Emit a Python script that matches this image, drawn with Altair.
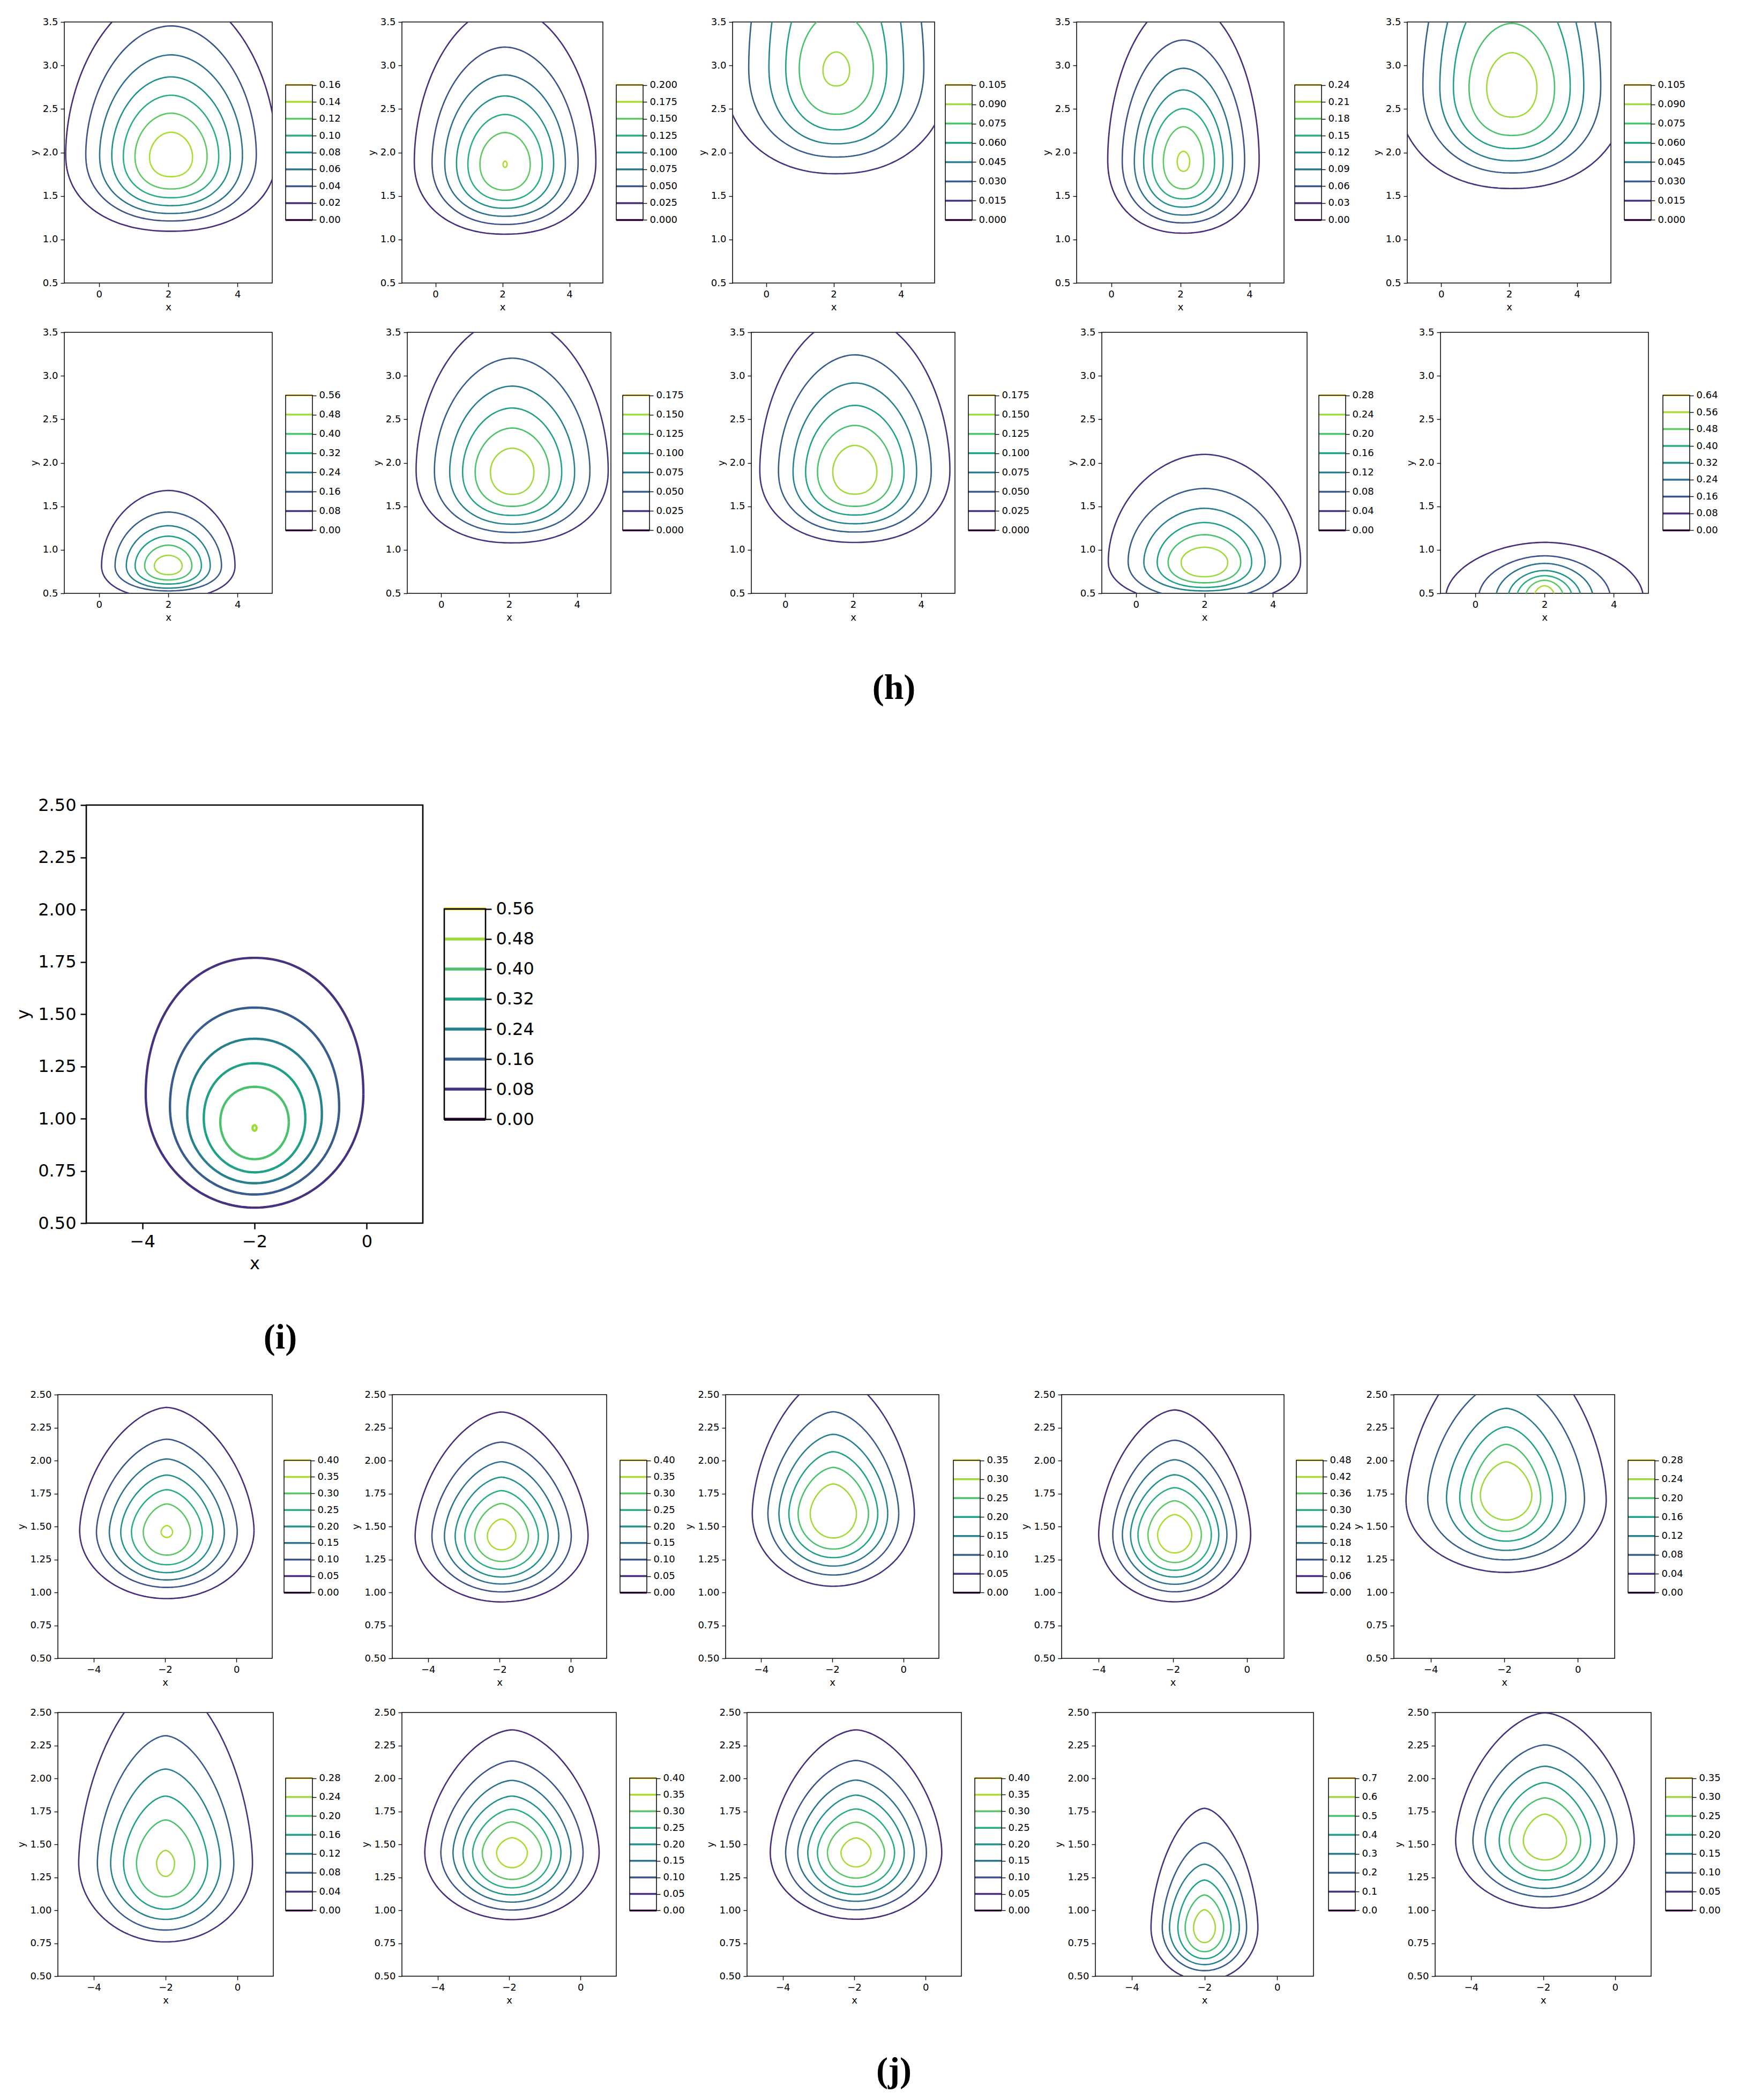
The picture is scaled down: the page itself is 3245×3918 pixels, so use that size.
import altair as alt
import numpy as np
import pandas as pd

# ======================= DATA =======================
# ---- section (h): 2 rows x 5 panels, x in [-1, 5], y in [0.5, 3.5]
H_X_TICKS = [0, 2, 4]
H_Y_TICKS = [0.5, 1.0, 1.5, 2.0, 2.5, 3.0, 3.5]
H_LEVELS = [
    [0.00, 0.02, 0.04, 0.06, 0.08, 0.10, 0.12, 0.14, 0.16],
    [0.000, 0.025, 0.050, 0.075, 0.100, 0.125, 0.150, 0.175, 0.200],
    [0.000, 0.015, 0.030, 0.045, 0.060, 0.075, 0.090, 0.105],
    [0.00, 0.03, 0.06, 0.09, 0.12, 0.15, 0.18, 0.21, 0.24],
    [0.000, 0.015, 0.030, 0.045, 0.060, 0.075, 0.090, 0.105],
    [0.00, 0.08, 0.16, 0.24, 0.32, 0.40, 0.48, 0.56],
    [0.000, 0.025, 0.050, 0.075, 0.100, 0.125, 0.150, 0.175],
    [0.000, 0.025, 0.050, 0.075, 0.100, 0.125, 0.150, 0.175],
    [0.00, 0.04, 0.08, 0.12, 0.16, 0.20, 0.24, 0.28],
    [0.00, 0.08, 0.16, 0.24, 0.32, 0.40, 0.48, 0.56, 0.64],
]
H_LEVEL_FMT = [".2f", ".3f", ".3f", ".2f", ".3f", ".2f", ".3f", ".3f", ".2f", ".2f"]
H_CENTER = [2.08, 2.08, 2.08, 2.09, 2.08, 2.0, 2.09, 2.05, 2.0, 2.0]
# contour rings: (level, bottom y, top y, half width, y of widest point)
H_RINGS = [
    [(0.02, 1.095, 3.86, 3.04, 1.98), (0.04, 1.213, 3.455, 2.46, 1.98), (0.06, 1.299, 3.122, 2.06, 1.97),
     (0.08, 1.389, 2.869, 1.71, 1.97), (0.10, 1.48, 2.658, 1.376, 1.96), (0.12, 1.581, 2.452, 1.04, 1.96),
     (0.14, 1.722, 2.233, 0.62, 1.95)],
    [(0.025, 1.061, 3.68, 2.71, 1.90), (0.050, 1.173, 3.211, 2.18, 1.89), (0.075, 1.267, 2.891, 1.80, 1.88),
     (0.100, 1.359, 2.650, 1.45, 1.88), (0.125, 1.45, 2.437, 1.11, 1.87), (0.150, 1.567, 2.229, 0.75, 1.87),
     (0.175, 1.83, 1.90, 0.06, 1.865)],
    [(0.015, 1.756, 6.0, 3.35, 2.98), (0.030, 1.948, 5.4, 2.6, 2.98), (0.045, 2.10, 4.9, 2.0, 2.98),
     (0.060, 2.26, 4.18, 1.5, 2.98), (0.075, 2.44, 3.61, 1.1, 2.97), (0.090, 2.765, 3.155, 0.395, 2.95)],
    [(0.03, 1.073, 3.755, 2.19, 1.92), (0.06, 1.191, 3.292, 1.77, 1.91), (0.09, 1.281, 2.968, 1.42, 1.90),
     (0.12, 1.372, 2.719, 1.15, 1.90), (0.15, 1.467, 2.504, 0.90, 1.90), (0.18, 1.582, 2.296, 0.58, 1.90),
     (0.21, 1.784, 2.013, 0.18, 1.90)],
    [(0.015, 1.586, 5.6, 3.4, 2.78), (0.030, 1.765, 5.0, 2.62, 2.77), (0.045, 1.904, 4.5, 2.12, 2.76),
     (0.060, 2.045, 4.0, 1.72, 2.76), (0.075, 2.196, 3.484, 1.26, 2.75), (0.090, 2.407, 3.147, 0.74, 2.75)],
    [(0.08, 0.44, 1.682, 1.925, 0.82), (0.16, 0.528, 1.434, 1.535, 0.82), (0.24, 0.56, 1.277, 1.21, 0.82),
     (0.32, 0.607, 1.157, 0.956, 0.82), (0.40, 0.654, 1.054, 0.68, 0.82), (0.48, 0.715, 0.937, 0.40, 0.82)],
    [(0.025, 1.080, 3.67, 2.83, 1.92), (0.050, 1.20, 3.203, 2.29, 1.91), (0.075, 1.295, 2.882, 1.84, 1.90),
     (0.100, 1.396, 2.63, 1.46, 1.90), (0.125, 1.50, 2.40, 1.09, 1.90), (0.150, 1.638, 2.168, 0.64, 1.90)],
    [(0.025, 1.085, 3.70, 2.8, 1.92), (0.050, 1.205, 3.241, 2.25, 1.91), (0.075, 1.30, 2.918, 1.82, 1.90),
     (0.100, 1.40, 2.66, 1.45, 1.90), (0.125, 1.50, 2.43, 1.10, 1.90), (0.150, 1.64, 2.20, 0.65, 1.90)],
    [(0.04, 0.38, 2.097, 2.81, 0.87), (0.08, 0.44, 1.705, 2.23, 0.87), (0.12, 0.528, 1.477, 1.77, 0.86),
     (0.16, 0.568, 1.314, 1.38, 0.86), (0.20, 0.621, 1.174, 1.06, 0.86), (0.24, 0.691, 1.03, 0.68, 0.86)],
    [(0.08, 0.3, 1.086, 2.85, 0.45), (0.16, 0.3, 0.931, 1.9, 0.45), (0.24, 0.3, 0.844, 1.4, 0.45),
     (0.32, 0.3, 0.762, 1.05, 0.45), (0.40, 0.3, 0.703, 0.8, 0.45), (0.48, 0.3, 0.65, 0.55, 0.45),
     (0.56, 0.3, 0.587, 0.3, 0.45)],
]

# ---- section (i): one panel, x in [-5, 1], y in [0.5, 2.5]
IJ_X_TICKS = [-4, -2, 0]
IJ_Y_TICKS = [0.5, 0.75, 1.0, 1.25, 1.5, 1.75, 2.0, 2.25, 2.5]
I_LEVELS = [0.00, 0.08, 0.16, 0.24, 0.32, 0.40, 0.48, 0.56]
I_LEVEL_FMT = ".2f"
I_CENTER = -2.0
I_RINGS = [(0.08, 0.574, 1.769, 1.94, 1.117), (0.16, 0.637, 1.531, 1.508, 1.055),
           (0.24, 0.691, 1.382, 1.20, 1.02), (0.32, 0.743, 1.265, 0.905, 1.0),
           (0.40, 0.806, 1.152, 0.61, 0.983), (0.48, 0.942, 0.968, 0.035, 0.955)]

# ---- section (j): 2 rows x 5 panels, x in [-5, 1], y in [0.5, 2.5]
J_LEVELS = [
    [0.00, 0.05, 0.10, 0.15, 0.20, 0.25, 0.30, 0.35, 0.40],
    [0.00, 0.05, 0.10, 0.15, 0.20, 0.25, 0.30, 0.35, 0.40],
    [0.00, 0.05, 0.10, 0.15, 0.20, 0.25, 0.30, 0.35],
    [0.00, 0.06, 0.12, 0.18, 0.24, 0.30, 0.36, 0.42, 0.48],
    [0.00, 0.04, 0.08, 0.12, 0.16, 0.20, 0.24, 0.28],
    [0.00, 0.04, 0.08, 0.12, 0.16, 0.20, 0.24, 0.28],
    [0.00, 0.05, 0.10, 0.15, 0.20, 0.25, 0.30, 0.35, 0.40],
    [0.00, 0.05, 0.10, 0.15, 0.20, 0.25, 0.30, 0.35, 0.40],
    [0.0, 0.1, 0.2, 0.3, 0.4, 0.5, 0.6, 0.7],
    [0.00, 0.05, 0.10, 0.15, 0.20, 0.25, 0.30, 0.35],
]
J_LEVEL_FMT = [".2f"] * 8 + [".1f", ".2f"]
J_CENTER = [-1.95, -1.94, -1.97, -1.95, -1.95, -2.0, -1.92, -1.95, -2.0, -1.95]
J_RINGS = [
    [(0.05, 0.953, 2.403, 2.44, 1.47), (0.10, 1.038, 2.162, 1.97, 1.46), (0.15, 1.095, 2.012, 1.61, 1.46),
     (0.20, 1.15, 1.89, 1.29, 1.46), (0.25, 1.21, 1.779, 0.99, 1.46), (0.30, 1.283, 1.671, 0.66, 1.46),
     (0.35, 1.417, 1.507, 0.16, 1.46)],
    [(0.05, 0.928, 2.368, 2.42, 1.43), (0.10, 1.004, 2.14, 1.95, 1.43), (0.15, 1.064, 1.991, 1.60, 1.43),
     (0.20, 1.117, 1.874, 1.30, 1.43), (0.25, 1.175, 1.772, 1.03, 1.43), (0.30, 1.235, 1.674, 0.75, 1.43),
     (0.35, 1.323, 1.556, 0.40, 1.43)],
    [(0.05, 1.047, 2.65, 2.28, 1.60), (0.10, 1.132, 2.37, 1.84, 1.60), (0.15, 1.20, 2.199, 1.53, 1.60),
     (0.20, 1.264, 2.067, 1.25, 1.60), (0.25, 1.329, 1.948, 0.99, 1.60), (0.30, 1.413, 1.823, 0.65, 1.60)],
    [(0.06, 0.929, 2.384, 2.05, 1.44), (0.12, 1.005, 2.154, 1.67, 1.44), (0.18, 1.062, 2.006, 1.41, 1.44),
     (0.24, 1.117, 1.892, 1.19, 1.44), (0.30, 1.168, 1.794, 0.99, 1.44), (0.36, 1.227, 1.695, 0.72, 1.44),
     (0.42, 1.30, 1.59, 0.46, 1.44)],
    [(0.04, 1.152, 2.92, 2.72, 1.70), (0.08, 1.247, 2.61, 2.13, 1.71), (0.12, 1.319, 2.396, 1.62, 1.72),
     (0.16, 1.389, 2.255, 1.26, 1.72), (0.20, 1.463, 2.123, 0.94, 1.72), (0.24, 1.549, 1.99, 0.70, 1.74)],
    [(0.04, 0.760, 2.745, 2.42, 1.36), (0.08, 0.85, 2.324, 1.90, 1.36), (0.12, 0.931, 2.071, 1.53, 1.36),
     (0.16, 1.008, 1.866, 1.17, 1.36), (0.20, 1.102, 1.685, 0.81, 1.36), (0.24, 1.257, 1.454, 0.25, 1.36)],
    [(0.05, 0.929, 2.368, 2.44, 1.44), (0.10, 1.002, 2.132, 1.99, 1.44), (0.15, 1.062, 1.985, 1.65, 1.44),
     (0.20, 1.117, 1.866, 1.37, 1.44), (0.25, 1.17, 1.766, 1.10, 1.44), (0.30, 1.234, 1.67, 0.83, 1.44),
     (0.35, 1.323, 1.55, 0.43, 1.44)],
    [(0.05, 0.932, 2.368, 2.40, 1.44), (0.10, 1.004, 2.136, 1.97, 1.44), (0.15, 1.068, 1.987, 1.63, 1.44),
     (0.20, 1.12, 1.873, 1.35, 1.44), (0.25, 1.179, 1.768, 1.08, 1.44), (0.30, 1.244, 1.668, 0.80, 1.44),
     (0.35, 1.329, 1.548, 0.42, 1.44)],
    [(0.1, 0.467, 1.773, 1.47, 0.87), (0.2, 0.542, 1.512, 1.16, 0.87), (0.3, 0.588, 1.349, 0.96, 0.87),
     (0.4, 0.633, 1.229, 0.73, 0.87), (0.5, 0.686, 1.116, 0.53, 0.87), (0.6, 0.755, 1.004, 0.30, 0.87)],
    [(0.05, 1.017, 2.497, 2.48, 1.53), (0.10, 1.102, 2.254, 2.0, 1.53), (0.15, 1.166, 2.092, 1.66, 1.53),
     (0.20, 1.23, 1.968, 1.27, 1.53), (0.25, 1.30, 1.852, 0.99, 1.53), (0.30, 1.382, 1.729, 0.60, 1.53)],
]

SECTION_LABELS = ["(h)", "(i)", "(j)"]

# ======================= LAYOUT / STYLE =======================
FONT = "DejaVu Sans"
LABEL_FONT = "Liberation Serif"
PAGE0 = 8
CBW = 50
H_PL = [[117, 747, 1364, 2006, 2623], [117, 757, 1399, 2053, 2685]]
H_PR = [[505, 1122, 1741, 2393, 3003], [505, 1137, 1779, 2436, 3073]]
H_CB = [[530, 1147, 1761, 2413, 3028], [530, 1159, 1804, 2458, 3100]]
J_PL = [[105, 729, 1351, 1978, 2598], [105, 747, 1391, 2041, 2675]]
J_PR = [[505, 1129, 1749, 2393, 3010], [507, 1147, 1791, 2448, 3078]]
J_CB = [[527, 1154, 1776, 2416, 3035], [530, 1172, 1816, 2476, 3105]]

SMALL = dict(fs=18, tick=7, tickw=1.4, lw=2.6, frame=1.5, cblw=3.5, lpad=5, tpad=6, cbw=CBW)
BIG = dict(fs=32, tick=11, tickw=2.4, lw=4.4, frame=2.6, cblw=5.5, lpad=8, tpad=10, cbw=77)

# estimated overflow of axis text outside the plot area (top / bottom), used for vertical placement
OV_TOP_S, OV_BOT_S = 9, 54
OV_TOP_B, OV_BOT_B = 16, 93

VIRIDIS = alt.Scale(scheme="viridis", domain=[0, 1])
SHAPE_H = (1.9, 2.2)   # superellipse exponents (upper half, lower half)
SHAPE_I = (2.1, 2.0)
SHAPE_J = (1.7, 2.0)


def ring_frame(center, levels, rings, shape, n=220):
    p_top, p_bot = shape
    l0, l1 = levels[0], levels[-1]
    th = np.linspace(0, 2 * np.pi, n)
    c, s = np.cos(th), np.sin(th)
    up = s >= 0
    frames = []
    for k, (lev, yb, yt, hw, yw) in enumerate(rings):
        ex = np.where(up, 2.0 / p_top, 2.0 / p_bot)
        xs = center + hw * np.sign(c) * np.abs(c) ** ex
        ys = np.where(up, yw + (yt - yw) * np.abs(s) ** (2.0 / p_top),
                      yw - (yw - yb) * np.abs(s) ** (2.0 / p_bot))
        frames.append(pd.DataFrame({"x": xs.round(4), "y": ys.round(4), "i": np.arange(n),
                                    "ring": k, "t": (lev - l0) / (l1 - l0)}))
    return pd.concat(frames, ignore_index=True)


def axis(vals, fmt, title, st, orient=None):
    kw = dict(values=vals, format=fmt, title=title, labelFont=FONT, titleFont=FONT,
              labelFontSize=st["fs"], titleFontSize=st["fs"], titleFontWeight="normal",
              labelColor="black", titleColor="black", tickColor="black", tickSize=st["tick"],
              tickWidth=st["tickw"], domain=False, grid=False, labelPadding=st["lpad"],
              titlePadding=st["tpad"], labelFlush=False, labelOverlap=False)
    if orient:
        kw["orient"] = orient
    return alt.Axis(**kw)


def plot_chart(df, xdom, ydom, xt, yt, yfmt, w, h, st):
    return alt.Chart(df, view=alt.ViewBackground(stroke="black", strokeWidth=st["frame"])).mark_line(
        clip=True, strokeWidth=st["lw"]).encode(
        x=alt.X("x:Q", scale=alt.Scale(domain=xdom, nice=False, zero=False), axis=axis(xt, "d", "x", st)),
        y=alt.Y("y:Q", scale=alt.Scale(domain=ydom, nice=False, zero=False), axis=axis(yt, yfmt, "y", st)),
        color=alt.Color("t:Q", scale=VIRIDIS, legend=None),
        detail="ring:N",
        order="i:Q",
    ).properties(width=w, height=h)


def cb_chart(levels, fmt, h, frac, st):
    l0, l1 = levels[0], levels[-1]
    pad = (l1 - l0) * (1 - frac) / (2 * frac)
    ysc = alt.Scale(domain=[l0 - pad, l1 + pad], nice=False, zero=False)
    xsc = alt.Scale(domain=[0, 1], nice=False, zero=False)
    ax = axis(levels, fmt, None, st, orient="right")
    df = pd.DataFrame({"lev": levels, "t": [(v - l0) / (l1 - l0) for v in levels],
                       "a": 0.0, "b": 1.0})
    lines = alt.Chart(df).mark_rule(strokeWidth=st["cblw"]).encode(
        x=alt.X("a:Q", scale=xsc, axis=None), x2="b:Q",
        y=alt.Y("lev:Q", scale=ysc, axis=ax),
        color=alt.Color("t:Q", scale=VIRIDIS, legend=None))
    box = alt.Chart(pd.DataFrame({"a": [0.0], "b": [1.0], "lo": [l0], "hi": [l1]})).mark_rect(
        fillOpacity=0, stroke="black", strokeWidth=st["frame"]).encode(
        x=alt.X("a:Q", scale=xsc, axis=None), x2="b:Q",
        y=alt.Y("lo:Q", scale=ysc, axis=ax), y2="hi:Q")
    return alt.layer(lines, box).properties(width=st["cbw"], height=h)


def spacer(w, h):
    return alt.Chart(pd.DataFrame({"v": [0]})).mark_point(opacity=0).encode(
        x=alt.X("v:Q", axis=None), y=alt.Y("v:Q", axis=None)).properties(width=max(1, w), height=max(1, h))


def label_chart(text, x, y, h):
    return alt.Chart(pd.DataFrame({"s": [text]})).mark_text(
        font=LABEL_FONT, fontSize=66, fontWeight="bold", align="center", baseline="middle",
        color="black").encode(text="s:N", x=alt.value(x), y=alt.value(y)).properties(width=3100, height=h)


def panel_row(pls, prs, cbs, plots, cbcharts, cbw, h):
    items, pos = [], PAGE0
    for k in range(len(plots)):
        items += [spacer(pls[k] - pos, h), plots[k], spacer(cbs[k] - prs[k], h), cbcharts[k]]
        pos = cbs[k] + cbw
    return alt.hconcat(*items, spacing=0, bounds="flush")


# target page positions (top / bottom of plot areas)
H_TOP = [40, 617]
H_ROW_H = 487
I_TOP, I_H = 1496, 780
J_TOP = [2595, 3186]
J_ROW_H = 492
LABEL_Y = [1280, 2490, 3854]

rows = [spacer(1, H_TOP[0] - PAGE0 - OV_TOP_S)]
for r in range(2):
    plots, cbc = [], []
    for c in range(5):
        k = r * 5 + c
        df = ring_frame(H_CENTER[k], H_LEVELS[k], H_RINGS[k], SHAPE_H)
        plots.append(plot_chart(df, [-1, 5], [0.5, 3.5], H_X_TICKS, H_Y_TICKS, ".1f",
                                H_PR[r][c] - H_PL[r][c], H_ROW_H, SMALL))
        cbc.append(cb_chart(H_LEVELS[k], H_LEVEL_FMT[k], H_ROW_H, 0.517, SMALL))
    rows.append(panel_row(H_PL[r], H_PR[r], H_CB[r], plots, cbc, CBW, H_ROW_H))
    if r == 0:
        rows.append(spacer(1, H_TOP[1] - OV_TOP_S - (H_TOP[0] + H_ROW_H + OV_BOT_S)))

y_cur = H_TOP[1] + H_ROW_H + OV_BOT_S
lab_h = I_TOP - OV_TOP_B - y_cur
rows.append(label_chart(SECTION_LABELS[0], 1665 - PAGE0, LABEL_Y[0] - y_cur, lab_h))

idf = ring_frame(I_CENTER, I_LEVELS, I_RINGS, SHAPE_I)
iplot = plot_chart(idf, [-5, 1], [0.5, 2.5], IJ_X_TICKS, IJ_Y_TICKS, ".2f", 786 - 158, I_H, BIG)
icb = cb_chart(I_LEVELS, I_LEVEL_FMT, I_H, 0.503, BIG)
rows.append(alt.hconcat(spacer(158 - PAGE0, I_H), iplot, spacer(826 - 786, I_H), icb,
                        spacing=0, bounds="flush"))

y_cur = I_TOP + I_H + OV_BOT_B
lab_h = J_TOP[0] - OV_TOP_S - y_cur
rows.append(label_chart(SECTION_LABELS[1], 520 - PAGE0, LABEL_Y[1] - y_cur, lab_h))

for r in range(2):
    plots, cbc = [], []
    for c in range(5):
        k = r * 5 + c
        df = ring_frame(J_CENTER[k], J_LEVELS[k], J_RINGS[k], SHAPE_J)
        plots.append(plot_chart(df, [-5, 1], [0.5, 2.5], IJ_X_TICKS, IJ_Y_TICKS, ".2f",
                                J_PR[r][c] - J_PL[r][c], J_ROW_H, SMALL))
        cbc.append(cb_chart(J_LEVELS[k], J_LEVEL_FMT[k], J_ROW_H, 0.502, SMALL))
    rows.append(panel_row(J_PL[r], J_PR[r], J_CB[r], plots, cbc, CBW, J_ROW_H))
    if r == 0:
        rows.append(spacer(1, J_TOP[1] - OV_TOP_S - (J_TOP[0] + J_ROW_H + OV_BOT_S)))

y_cur = J_TOP[1] + J_ROW_H + OV_BOT_S
rows.append(label_chart(SECTION_LABELS[2], 1665 - PAGE0, LABEL_Y[2] - y_cur, 3905 - y_cur))

chart = alt.vconcat(*rows, spacing=0).properties(
    padding=0, background="white").configure_view(stroke=None)

chart.save("out.html", embed_options={"renderer": "svg", "actions": False})
